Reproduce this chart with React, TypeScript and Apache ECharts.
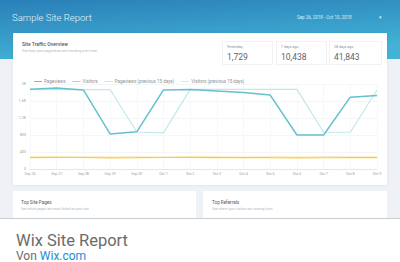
import React, { useEffect, useRef } from "react";
import * as echarts from "echarts";

const dates = ["Sep 26", "Sep 27", "Sep 28", "Sep 29", "Sep 30", "Oct 1", "Oct 2", "Oct 3", "Oct 4", "Oct 5", "Oct 6", "Oct 7", "Oct 8", "Oct 9"];
const pageviews = [1875, 1905, 1860, 825, 875, 1860, 1870, 1835, 1800, 1740, 800, 800, 1690, 1729];
const pageviewsPrev = [1870, 1870, 1870, 1870, 870, 850, 1875, 1875, 1875, 1875, 1875, 865, 865, 1860];
const visitors = [268, 272, 270, 264, 266, 270, 272, 268, 270, 266, 264, 265, 270, 268];
const visitorsPrev = [284, 282, 286, 281, 284, 282, 285, 283, 281, 284, 282, 283, 285, 284];
const yTicks = [0, 400, 800, 1200, 1600, 2000];
const seriesNames = ["Pageviews", "Visitors", "Pageviews (previous 15 days)", "Visitors (previous 15 days)"];
const kpiLabels = ["Yesterday", "7 days ago", "28 days ago"];
const kpiValues = ["1,729", "10,438", "41,843"];

const FONT = 'Roboto, "Open Sans", "Noto Sans", sans-serif';

export default function App() {
  const ref = useRef<HTMLDivElement>(null);
  useEffect(() => {
    if (!ref.current) return;
    const chart = echarts.init(ref.current, undefined, { renderer: "svg" });
    const fmt = (v: number) => (v >= 1000 ? v / 1000 + "K" : String(v));
    const kpiX = [222, 276, 329];
    const kpiW = [50, 50, 52];
    const graphic: any[] = [
      { type: "rect", z: -10, shape: { x: 0, y: 0, width: 400, height: 262 }, style: { fill: "#eef2f6" } },
      {
        type: "rect", z: -9, shape: { x: 0, y: 0, width: 400, height: 59 },
        style: {
          fill: new echarts.graphic.LinearGradient(0, 0, 0.35, 1, [
            { offset: 0, color: "#2a7fb8" },
            { offset: 1, color: "#42b3d6" },
          ]),
        },
      },
      { type: "text", z: -5, x: 12, y: 17, style: { text: "Sample Site Report", fill: "#e8f4fa", font: `300 9.5px ${FONT}`, verticalAlign: "middle" } },
      { type: "text", z: -5, x: 297, y: 17, style: { text: "Sep 26, 2018 - Oct 10, 2018", fill: "#d8eef8", font: `4.5px ${FONT}`, verticalAlign: "middle" } },
      { type: "text", z: -5, x: 379, y: 17, style: { text: "▾", fill: "#d8eef8", font: `4.5px ${FONT}`, verticalAlign: "middle" } },
      { type: "rect", z: -8, shape: { x: 13, y: 33, width: 374, height: 152, r: 1 }, style: { fill: "#ffffff", shadowBlur: 3, shadowColor: "rgba(0,0,0,0.08)" } },
      { type: "text", z: -5, x: 22, y: 44, style: { text: "Site Traffic Overview", fill: "#555a60", font: `500 5px ${FONT}`, verticalAlign: "middle" } },
      { type: "text", z: -5, x: 22, y: 51, style: { text: "See how your pageviews are trending over time", fill: "#b0b5ba", font: `3.6px ${FONT}`, verticalAlign: "middle" } },
      { type: "rect", z: -8, shape: { x: 13, y: 191, width: 183, height: 40 }, style: { fill: "#ffffff" } },
      { type: "rect", z: -8, shape: { x: 203, y: 191, width: 184, height: 40 }, style: { fill: "#ffffff" } },
      { type: "text", z: -5, x: 21, y: 202, style: { text: "Top Site Pages", fill: "#555a60", font: `4.6px ${FONT}`, verticalAlign: "middle" } },
      { type: "text", z: -5, x: 21, y: 209, style: { text: "See which pages are most linked on your site", fill: "#b0b5ba", font: `3.4px ${FONT}`, verticalAlign: "middle" } },
      { type: "text", z: -5, x: 212, y: 202, style: { text: "Top Referrals", fill: "#555a60", font: `4.6px ${FONT}`, verticalAlign: "middle" } },
      { type: "text", z: -5, x: 212, y: 209, style: { text: "See where your visitors are coming from", fill: "#b0b5ba", font: `3.4px ${FONT}`, verticalAlign: "middle" } },
      { type: "rect", z: 20, shape: { x: 0, y: 218, width: 400, height: 44 }, style: { fill: "#ffffff" } },
      { type: "line", z: 21, shape: { x1: 0, y1: 218.5, x2: 400, y2: 218.5 }, style: { stroke: "#c9cdd1", lineWidth: 1 } },
      { type: "text", z: 22, x: 16, y: 240, style: { text: "Wix Site Report", fill: "#6b6b6b", font: `16.5px ${FONT}`, verticalAlign: "middle" } },
      {
        type: "text", z: 22, x: 16, y: 250,
        style: {
          text: "{a|Von }{b|Wix.com}",
          verticalAlign: "top",
          rich: {
            a: { fill: "#6b6b6b", font: `12px ${FONT}`, lineHeight: 12 },
            b: { fill: "#1c8ad8", font: `12px ${FONT}`, lineHeight: 12 },
          },
        },
      },
    ];
    kpiLabels.forEach((lab, i) => {
      graphic.push({ type: "rect", z: -7, shape: { x: kpiX[i] + 0.5, y: 41.5, width: kpiW[i], height: 23 }, style: { fill: "#ffffff", stroke: "#e6e9ec", lineWidth: 0.6 } });
      graphic.push({ type: "text", z: -5, x: kpiX[i] + 5, y: 47, style: { text: lab, fill: "#8a8f94", font: `3.6px ${FONT}`, verticalAlign: "middle" } });
      graphic.push({ type: "text", z: -5, x: kpiX[i] + 5, y: 57, style: { text: kpiValues[i], fill: "#5f6468", font: `8.5px ${FONT}`, verticalAlign: "middle" } });
    });

    const colors = ["#66c0cd", "#f5cb4a", "#c2e7ec", "#fbe7ad"];
    const mk = (name: string, data: number[], color: string, width: number, z: number) => ({
      name, type: "line", data, symbol: "none", z,
      lineStyle: { color, width }, itemStyle: { color },
    });

    chart.setOption({
      animation: false,
      textStyle: { fontFamily: FONT },
      graphic,
      legend: {
        left: 29, top: 74, itemWidth: 8, itemHeight: 4, itemGap: 7,
        icon: "path://M0,1.5L8,1.5L8,2.5L0,2.5Z",
        textStyle: { fontSize: 4.5, color: "#8a8f94", padding: [0, 0, 0, -3] },
        data: seriesNames,
      },
      grid: { left: 30, right: 23, top: 84, bottom: 93, containLabel: false },
      xAxis: {
        type: "category", data: dates, boundaryGap: false,
        axisLine: { lineStyle: { color: "#e4e7ea" } },
        axisTick: { show: false },
        axisLabel: { fontSize: 3.6, color: "#9aa0a5", margin: 3, interval: 0 },
        splitLine: { show: true, lineStyle: { color: "#f1f3f5", width: 0.6 } },
      },
      yAxis: {
        type: "value", min: 0, max: 2000, interval: 400,
        axisLine: { show: false }, axisTick: { show: false },
        axisLabel: { fontSize: 3.6, color: "#9aa0a5", margin: 4, formatter: (v: number) => (yTicks.includes(v) ? fmt(v) : "") },
        splitLine: { lineStyle: { color: "#eef0f2", width: 0.6 } },
      },
      series: [
        mk(seriesNames[3], visitorsPrev, colors[3], 1.2, 2),
        mk(seriesNames[2], pageviewsPrev, colors[2], 1.2, 3),
        mk(seriesNames[1], visitors, colors[1], 1.2, 4),
        mk(seriesNames[0], pageviews, colors[0], 1.5, 5),
      ],
    });
    return () => chart.dispose();
  }, []);
  return <div ref={ref} style={{ position: "absolute", left: 0, top: 0, width: 400, height: 262 }} />;
}
